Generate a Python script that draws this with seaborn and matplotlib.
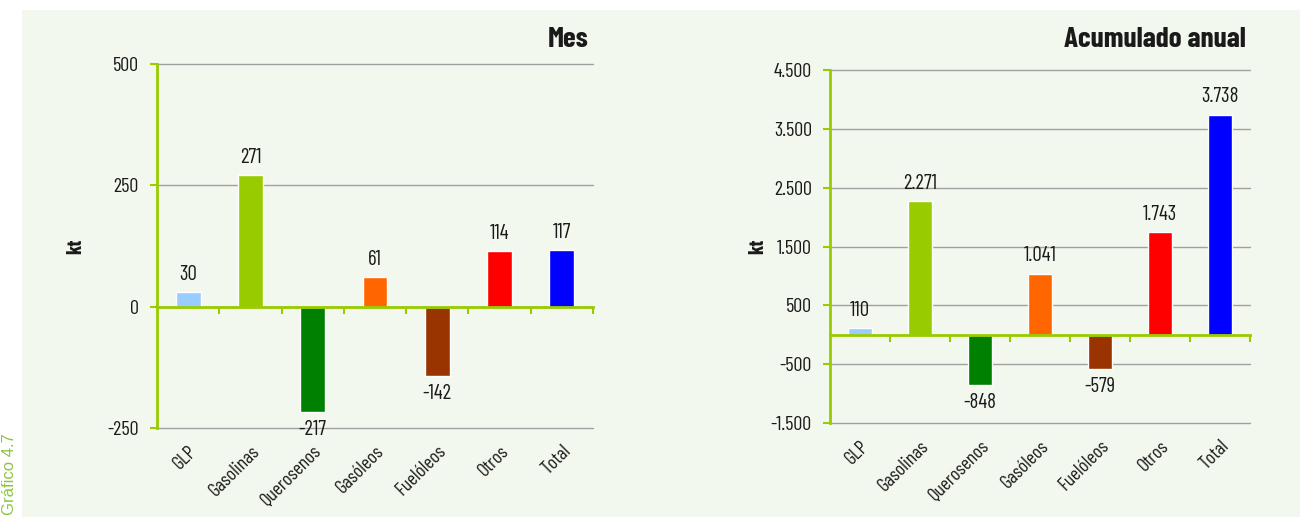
import matplotlib
matplotlib.use("Agg")
import matplotlib.pyplot as plt
import seaborn as sns
from matplotlib.patches import Rectangle
from matplotlib.ticker import FuncFormatter


# DATA

categories = ["GLP", "Gasolinas", "Querosenos", "Gasóleos", "Fuelóleos", "Otros", "Total"]
mes_values = [30, 271, -217, 61, -142, 114, 117]
anual_values = [110, 2271, -848, 1041, -579, 1743, 3738]
bar_colors = ["#99CCFF", "#99CC00", "#008000", "#FF6600", "#993300", "#FF0000", "#0000FF"]

mes_ticks = [-250, 0, 250, 500]
anual_ticks = [-1500, -500, 500, 1500, 2500, 3500, 4500]


# STYLE

sns.set_style("white")
NARROW = ["Barlow Condensed", "Liberation Sans Narrow", "DejaVu Sans"]
plt.rcParams["font.family"] = NARROW

BG = "#F3F8EE"
AXIS_GREEN = "#99CC00"
GRID_GRAY = "#A0A0A0"
TEXT = "#1A1A1A"


def fmt_es(v):
    return f"{int(v):,}".replace(",", ".")


def draw_panel(ax, values, ticks, title, title_y, label_x):
    sns.barplot(x=categories, y=values, hue=categories, palette=bar_colors,
                legend=False, width=0.4, saturation=1, ax=ax)
    ax.patch.set_visible(False)
    ax.set_ylim(ticks[0], ticks[-1])
    ax.set_xlim(-0.5, len(categories) - 0.5)
    ax.set_yticks(ticks)
    ax.yaxis.set_major_formatter(FuncFormatter(lambda v, p: fmt_es(v)))
    ax.grid(axis="y", color=GRID_GRAY, linewidth=1)
    ax.set_axisbelow(True)
    for line in ax.get_ygridlines():
        line.set_clip_on(False)

    for side in ["top", "right"]:
        ax.spines[side].set_visible(False)
    ax.spines["left"].set_color(AXIS_GREEN)
    ax.spines["left"].set_linewidth(2)
    ax.spines["bottom"].set_position(("data", 0))
    ax.spines["bottom"].set_color(AXIS_GREEN)
    ax.spines["bottom"].set_linewidth(2)
    ax.spines["bottom"].set_zorder(5)

    # ticks on the zero line between categories
    ax.set_xticks([i + 0.5 for i in range(len(categories))])
    ax.set_xticklabels([])
    ax.tick_params(axis="x", direction="out", length=5, width=1.5,
                   color=AXIS_GREEN, bottom=True)
    ax.tick_params(axis="y", direction="out", length=5, width=1.5,
                   color=AXIS_GREEN, left=True, labelsize=14.5, pad=8,
                   labelcolor=TEXT)

    # category labels at the bottom of the axes
    sec = ax.secondary_xaxis("bottom")
    sec.set_xticks(range(len(categories)))
    sec.set_xticklabels(categories, rotation=45, ha="right",
                        rotation_mode="anchor", fontsize=14, color=TEXT)
    sec.tick_params(length=0, pad=10)
    sec.spines["bottom"].set_visible(False)

    ax.set_ylabel("kt", fontsize=15, fontweight="bold", color=TEXT)
    ax.yaxis.set_label_coords(label_x, 0.5)
    ax.set_xlabel("")

    for i, v in enumerate(values):
        ax.annotate(fmt_es(v), (i, v),
                    xytext=(0, 6 if v >= 0 else -6),
                    textcoords="offset points", ha="center",
                    va="bottom" if v >= 0 else "top", fontsize=15,
                    color=TEXT)

    ax.text(0.99, title_y, title, transform=ax.transAxes, ha="right",
            va="center", fontsize=21, fontweight="bold", color=TEXT)


fig = plt.figure(figsize=(13, 5.17), dpi=100)
fig.patch.set_facecolor("white")
fig.patches.append(Rectangle((22 / 1300, 0), 1 - 22 / 1300, 1 - 10 / 517,
                             transform=fig.transFigure, facecolor=BG,
                             edgecolor="none", zorder=-10))

ax1 = fig.add_axes([157 / 1300, 1 - 428 / 517, (593 - 157) / 1300, (428 - 64) / 517])
ax2 = fig.add_axes([830 / 1300, 1 - 423 / 517, (1250 - 830) / 1300, (423 - 70) / 517])

draw_panel(ax1, mes_values, mes_ticks, "Mes", 1.066, -0.165)
draw_panel(ax2, anual_values, anual_ticks, "Acumulado anual", 1.085, -0.15)

fig.text(10 / 1300, 2 / 517, "Gráfico 4.7", rotation=90, ha="center",
         va="bottom", color="#8DC63F", fontsize=12,
         family=["Liberation Sans", "DejaVu Sans"])

fig.savefig("out.png", dpi=100, facecolor=fig.get_facecolor())
